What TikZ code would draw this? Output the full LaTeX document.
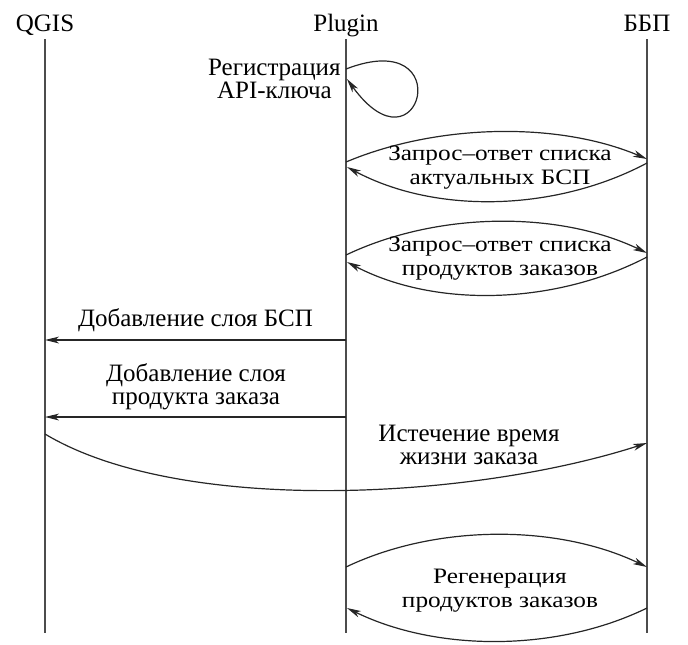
\documentclass[tikz,border=0pt]{standalone}
\usepackage{fontspec}
\setmainfont{Liberation Serif}
\newfontfamily\widefont[FakeStretch=1.15]{Liberation Serif}
\usetikzlibrary{arrows.meta}
\tikzset{
  lifeline/.style = {black!70,line width=0.7pt},
  msg/.style      = {-{Stealth[length=7pt,width=3.4pt,inset=2pt]},black!85,line width=0.6pt},
  head/.style     = {anchor=base,inner sep=0pt,font=\fontsize{12.5}{12}\selectfont},
  lbl/.style      = {align=center,inner sep=0pt,font=\fontsize{12.5}{11.5}\selectfont},
  wlbl/.style     = {align=center,inner sep=0pt,font=\widefont\fontsize{11}{12}\selectfont}
}

\begin{document}
\begin{tikzpicture}[x=0.5pt,y=-0.5pt]
  \useasboundingbox (0,0) rectangle (688,644);
  % actors and lifelines
  \node[head] (qgis) at (45,31)  {QGIS};
  \node[head] (plug) at (346,31) {Plugin};
  \node[head] (bbp)  at (647,31) {ББП};
  \foreach \a in {qgis,plug,bbp}
    \draw[lifeline] (\a.base) ++(0,8) coordinate (\a top) -- ++(0,594) coordinate (\a bot);

  % API key registration
  \coordinate (pl0a) at (346,69);
  \coordinate (pl0b) at (347,79);
  \draw[msg] (pl0a) .. controls (460,25) and (420,180) .. (pl0b);
  \node[lbl,anchor=east] (reg) at (341,79) {Регистрация\\API-ключа};

  % request/response: current lists
  \coordinate (pl1a) at (346,162);
  \coordinate (bb1a) at (647,159);
  \coordinate (bb1b) at (647,163);
  \coordinate (pl1b) at (347,167);
  \draw[msg] (pl1a) .. controls +(90,-38) and +(-90,-38) .. (bb1a);
  \draw[msg] (bb1b) .. controls +(-90,48) and +(90,48) .. (pl1b);
  \node[wlbl] (lists) at (500,168) {Запрос–ответ списка\\актуальных БСП};

  % request/response: order products
  \coordinate (pl2a) at (346,255);
  \coordinate (bb2a) at (647,253);
  \coordinate (bb2b) at (647,257);
  \coordinate (pl2b) at (347,262);
  \draw[msg] (pl2a) .. controls +(90,-43) and +(-90,-43) .. (bb2a);
  \draw[msg] (bb2b) .. controls +(-90,47) and +(90,47) .. (pl2b);
  \node[wlbl] (prods) at (500,259) {Запрос–ответ списка\\продуктов заказов};

  % layers added in QGIS
  \coordinate (pl3) at (346,340);
  \coordinate (qg3) at (45,340);
  \draw[msg] (pl3) -- (qg3);
  \node[lbl] (addlay) at (195.5,320) {Добавление слоя БСП};
  \coordinate (pl4) at (346,417);
  \coordinate (qg4) at (45,417);
  \draw[msg] (pl4) -- (qg4);
  \node[lbl] (addprod) at (196,387) {Добавление слоя\\продукта заказа};

  % order expiry
  \coordinate (qg5) at (45,434);
  \coordinate (bb5) at (647,443);
  \draw[msg] (qg5) .. controls (180,515) and (470,500) .. (bb5);
  \node[lbl] (expiry) at (469,445) {Истечение время\\жизни заказа};

  % regeneration
  \coordinate (pl6a) at (346,567);
  \coordinate (bb6a) at (647,567);
  \coordinate (bb6b) at (647,608);
  \coordinate (pl6b) at (347,608);
  \draw[msg] (pl6a) .. controls +(90,-43) and +(-90,-43) .. (bb6a);
  \draw[msg] (bb6b) .. controls +(-90,44) and +(90,44) .. (pl6b);
  \node[wlbl] (regen) at (500,591) {Регенерация\\продуктов заказов};
\end{tikzpicture}
\end{document}
